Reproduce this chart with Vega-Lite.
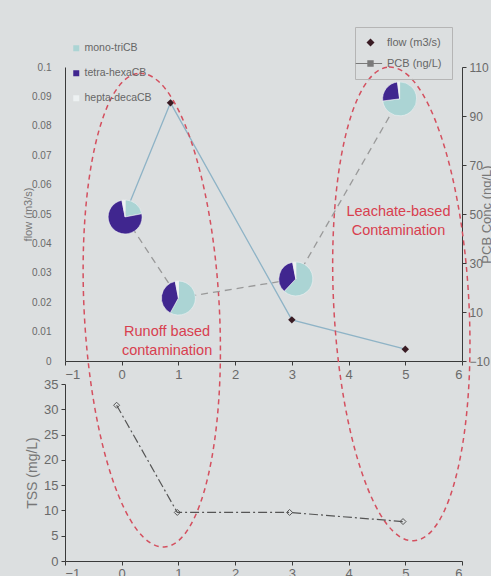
{
  "$schema": "https://vega.github.io/schema/vega-lite/v6.json",
  "background": "#dcdfe0",
  "padding": {"left": 22, "top": 26, "right": 0, "bottom": 0},
  "bounds": "flush",
  "spacing": 23,
  "config": {
    "view": {"stroke": null},
    "axis": {"grid": false, "labelColor": "#6a6a6a", "domainColor": "#3a3a3a", "tickColor": "#3a3a3a", "titleColor": "#777", "labelFont": "Liberation Sans", "titleFont": "Liberation Sans", "titleFontWeight": "normal", "labelOverlap": false},
    "legend": {"labelFont": "Liberation Sans", "labelColor": "#666", "labelFontWeight": "normal"},
    "text": {"font": "Liberation Sans"}
  },
  "datasets": {
    "flow": [
      {"x": 0.06, "flow": 0.05, "series": "flow (m3/s)"},
      {"x": 0.86, "flow": 0.0878, "series": "flow (m3/s)"},
      {"x": 3.0, "flow": 0.014, "series": "flow (m3/s)"},
      {"x": 5.0, "flow": 0.004, "series": "flow (m3/s)"}
    ],
    "pcb": [
      {"x": 0.06, "pcb": 48.8},
      {"x": 1.0, "pcb": 15.7},
      {"x": 3.07, "pcb": 23.5},
      {"x": 4.9, "pcb": 97}
    ],
    "pies": [
      {"pie": "a", "x": 0.06, "pcb": 48.8, "group": "mono-triCB", "order": 1, "frac": 0.22},
      {"pie": "a", "x": 0.06, "pcb": 48.8, "group": "tetra-hexaCB", "order": 2, "frac": 0.75},
      {"pie": "a", "x": 0.06, "pcb": 48.8, "group": "hepta-decaCB", "order": 3, "frac": 0.03},
      {"pie": "b", "x": 1.0, "pcb": 15.7, "group": "mono-triCB", "order": 1, "frac": 0.58},
      {"pie": "b", "x": 1.0, "pcb": 15.7, "group": "tetra-hexaCB", "order": 2, "frac": 0.39},
      {"pie": "b", "x": 1.0, "pcb": 15.7, "group": "hepta-decaCB", "order": 3, "frac": 0.03},
      {"pie": "c", "x": 3.07, "pcb": 23.5, "group": "mono-triCB", "order": 1, "frac": 0.62},
      {"pie": "c", "x": 3.07, "pcb": 23.5, "group": "tetra-hexaCB", "order": 2, "frac": 0.35},
      {"pie": "c", "x": 3.07, "pcb": 23.5, "group": "hepta-decaCB", "order": 3, "frac": 0.03},
      {"pie": "d", "x": 4.9, "pcb": 97, "group": "mono-triCB", "order": 1, "frac": 0.73},
      {"pie": "d", "x": 4.9, "pcb": 97, "group": "tetra-hexaCB", "order": 2, "frac": 0.25},
      {"pie": "d", "x": 4.9, "pcb": 97, "group": "hepta-decaCB", "order": 3, "frac": 0.02}
    ],
    "rings": [
      {"x": 0.53, "flow": 0.0173},
      {"x": 4.93, "flow": 0.0194}
    ],
    "notes": [
      {"x": 0.8, "flow": 0.0098, "label": ["Runoff based", "contamination"]},
      {"x": 4.88, "flow": 0.0508, "label": ["Leachate-based", "Contamination"]}
    ],
    "tss": [
      {"x": -0.09, "tss": 30.8},
      {"x": 0.98, "tss": 9.6},
      {"x": 2.96, "tss": 9.6},
      {"x": 4.96, "tss": 7.8}
    ]
  },
  "vconcat": [
    {
      "width": 397,
      "height": 294,
      "encoding": {
        "x": {"field": "x", "type": "quantitative", "scale": {"domain": [-1, 6], "nice": false, "zero": false},
          "axis": {"title": null, "values": [-1, 0, 1, 2, 3, 4, 5, 6], "labelFontSize": 13, "tickSize": 4, "labelPadding": 3}}
      },
      "layer": [
        {
          "encoding": {
            "y": {"field": "flow", "type": "quantitative", "scale": {"domain": [0, 0.1], "nice": false},
              "axis": {"orient": "left", "title": "flow (m3/s)", "titleFontSize": 11, "titlePadding": -2, "format": ".2~f", "values": [0, 0.01, 0.02, 0.03, 0.04, 0.05, 0.06, 0.07, 0.08, 0.09, 0.1], "labelOverlap": false, "labelFontSize": 10, "tickSize": 0, "labelPadding": 14}}
          },
          "layer": [
            {
              "data": {"name": "flow"},
              "mark": {"type": "line", "color": "#8eb3c6", "strokeWidth": 1.3}
            },
            {
              "data": {"name": "flow"},
              "mark": {"type": "point", "filled": true, "size": 55, "opacity": 1},
              "encoding": {
                "shape": {"field": "series", "type": "nominal",
                  "scale": {"domain": ["flow (m3/s)", "PCB (ng/L)"], "range": ["diamond", "M-3.7,-0.13H2.9V0.13H-3.7ZM-0.8,-0.8H0.8V0.8H-0.8Z"]},
                  "legend": {"title": null, "orient": "none", "legendX": 290, "legendY": -40, "padding": 10, "strokeColor": "#b5b5b5", "symbolSize": 64, "labelFontSize": 11, "labelOffset": 11, "rowPadding": 9}},
                "color": {"field": "series", "type": "nominal",
                  "scale": {"domain": ["flow (m3/s)", "PCB (ng/L)"], "range": ["#3a1c24", "#7a7a7a"]},
                  "legend": {"title": null, "orient": "none", "legendX": 290, "legendY": -40, "padding": 10, "strokeColor": "#b5b5b5", "symbolSize": 64, "labelFontSize": 11, "labelOffset": 11, "rowPadding": 9}}
              }
            },
            {
              "data": {"name": "rings"},
              "mark": {"type": "point", "shape": "M0,-1C0.158,-1 0.285,-0.5523 0.285,0C0.285,0.5523 0.158,1 0,1C-0.158,1 -0.285,0.5523 -0.285,0C-0.285,-0.5523 -0.158,-1 0,-1Z", "size": 225000, "angle": 357, "filled": false, "stroke": "#d4505f", "strokeWidth": 1.5, "strokeDash": [5, 4], "opacity": 1}
            },
            {
              "data": {"name": "notes"},
              "mark": {"type": "text", "fontSize": 14.5, "color": "#d8404f", "lineHeight": 19, "align": "center", "baseline": "middle"},
              "encoding": {
                "text": {"field": "label"}
              }
            }
          ]
        },
        {
          "encoding": {
            "y": {"field": "pcb", "type": "quantitative", "scale": {"domain": [-10, 110], "nice": false, "zero": false},
              "axis": {"orient": "right", "title": "PCB Conc (ng/L)", "titleAngle": 270, "titleFontSize": 13, "titlePadding": 4, "values": [-10, 10, 30, 50, 70, 90, 110], "labelFontSize": 12, "tickSize": 4, "labelPadding": 3}}
          },
          "layer": [
            {
              "data": {"name": "pcb"},
              "mark": {"type": "line", "color": "#999", "strokeWidth": 1.3, "strokeDash": [7, 5]}
            },
            {
              "data": {"name": "pies"},
              "transform": [
                {"stack": "frac", "groupby": ["pie"], "sort": [{"field": "order"}], "offset": "normalize", "as": ["t0", "t1"]}
              ],
              "mark": {"type": "arc", "radius": 17, "stroke": "#eef2f3", "strokeWidth": 0.6},
              "encoding": {
                "theta": {"field": "t0", "type": "quantitative", "stack": null, "scale": {"domain": [0, 1]}},
                "theta2": {"field": "t1"},
                "color": {"field": "group", "type": "nominal",
                  "scale": {"domain": ["mono-triCB", "tetra-hexaCB", "hepta-decaCB"], "range": ["#abd4d4", "#40268f", "#edf1f2"]},
                  "legend": {"title": null, "orient": "none", "legendX": 6, "legendY": -24, "padding": 0, "symbolType": "square", "symbolSize": 36, "labelFontSize": 10.5, "rowPadding": 14, "labelOffset": 3, "symbolStrokeWidth": 0}}
              }
            }
          ]
        }
      ],
      "resolve": {"scale": {"y": "independent", "color": "independent", "shape": "independent"}}
    },
    {
      "width": 397,
      "height": 177,
      "data": {"name": "tss"},
      "encoding": {
        "x": {"field": "x", "type": "quantitative", "scale": {"domain": [-1, 6], "nice": false, "zero": false},
          "axis": {"title": null, "values": [-1, 0, 1, 2, 3, 4, 5, 6], "labelFontSize": 13, "tickSize": 4, "labelPadding": 2}},
        "y": {"field": "tss", "type": "quantitative", "scale": {"domain": [0, 35], "nice": false},
          "axis": {"title": "TSS (mg/L)", "titleFontSize": 14, "values": [0, 5, 10, 15, 20, 25, 30, 35], "labelFontSize": 13, "tickSize": 4, "labelPadding": 3, "titlePadding": 4}}
      },
      "layer": [
        {"mark": {"type": "line", "color": "#555", "strokeWidth": 1.2, "strokeDash": [9, 3, 2, 3]}},
        {"mark": {"type": "point", "shape": "diamond", "filled": false, "size": 36, "stroke": "#555", "strokeWidth": 1, "opacity": 1}}
      ]
    }
  ]
}
